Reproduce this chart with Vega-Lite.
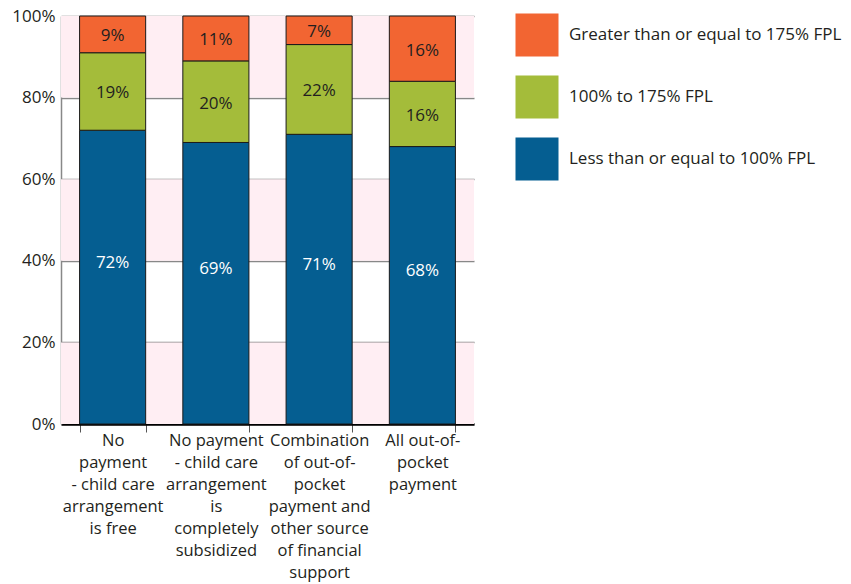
{
  "$schema": "https://vega.github.io/schema/vega-lite/v6.json",
  "autosize": {"type": "none"},
  "width": 413,
  "height": 408,
  "padding": {"left": 61, "top": 16, "right": 377, "bottom": 160},
  "background": "white",
  "config": {
    "font": "Open Sans",
    "view": {"stroke": null},
    "axis": {"labelFont": "Open Sans", "labelColor": "#231F20"}
  },
  "datasets": {
    "bars": [
      {"category": "No payment - child care arrangement is free", "group": "Less than or equal to 100% FPL", "level": 1, "value": 0.72},
      {"category": "No payment - child care arrangement is free", "group": "100% to 175% FPL", "level": 2, "value": 0.19},
      {"category": "No payment - child care arrangement is free", "group": "Greater than or equal to 175% FPL", "level": 3, "value": 0.09},
      {"category": "No payment - child care arrangement is completely subsidized", "group": "Less than or equal to 100% FPL", "level": 1, "value": 0.69},
      {"category": "No payment - child care arrangement is completely subsidized", "group": "100% to 175% FPL", "level": 2, "value": 0.20},
      {"category": "No payment - child care arrangement is completely subsidized", "group": "Greater than or equal to 175% FPL", "level": 3, "value": 0.11},
      {"category": "Combination of out-of-pocket payment and other source of financial support", "group": "Less than or equal to 100% FPL", "level": 1, "value": 0.71},
      {"category": "Combination of out-of-pocket payment and other source of financial support", "group": "100% to 175% FPL", "level": 2, "value": 0.22},
      {"category": "Combination of out-of-pocket payment and other source of financial support", "group": "Greater than or equal to 175% FPL", "level": 3, "value": 0.07},
      {"category": "All out-of-pocket payment", "group": "Less than or equal to 100% FPL", "level": 1, "value": 0.68},
      {"category": "All out-of-pocket payment", "group": "100% to 175% FPL", "level": 2, "value": 0.16},
      {"category": "All out-of-pocket payment", "group": "Greater than or equal to 175% FPL", "level": 3, "value": 0.16}
    ],
    "bands": [
      {"lo": 0, "hi": 0.2},
      {"lo": 0.4, "hi": 0.6},
      {"lo": 0.8, "hi": 1.0}
    ]
  },
  "layer": [
    {
      "data": {"name": "bands"},
      "mark": {"type": "rect", "color": "#FFEEF3"},
      "encoding": {
        "y": {"field": "lo", "type": "quantitative", "scale": {"domain": [0, 1]}},
        "y2": {"field": "hi"}
      }
    },
    {
      "data": {"name": "bars"},
      "layer": [
        {
          "mark": {"type": "bar", "stroke": "#1a1a1a", "strokeWidth": 1},
          "encoding": {
            "x": {
              "field": "category", "type": "nominal", "sort": null,
              "scale": {"paddingInner": 0.36, "paddingOuter": 0.18},
              "axis": {
                "title": null, "labelAngle": 0, "labelFontSize": 16.5, "labelLineHeight": 22,
                "labelPadding": 0, "tickBand": "extent", "tickSize": 8, "tickColor": "#555",
                "domainColor": "#000", "domainWidth": 2.5, "labelBaseline": "top",
                "labelExpr": "datum.value == 'No payment - child care arrangement is free' ? ['No', 'payment', '- child care', 'arrangement', 'is free'] : datum.value == 'No payment - child care arrangement is completely subsidized' ? ['No payment', '- child care', 'arrangement', 'is', 'completely', 'subsidized'] : datum.value == 'Combination of out-of-pocket payment and other source of financial support' ? ['Combination', 'of out-of-', 'pocket', 'payment and', 'other source', 'of financial', 'support'] : datum.value == 'All out-of-pocket payment' ? ['All out-of-', 'pocket', 'payment'] : ''"
              }
            },
            "y": {
              "field": "value", "type": "quantitative", "stack": "zero",
              "scale": {"domain": [0, 1]},
              "axis": {
                "title": null, "format": ".0%", "values": [0, 0.2, 0.4, 0.6, 0.8, 1.0],
                "labelFontSize": 17, "labelPadding": 6, "ticks": false,
                "domainColor": "#888", "domainWidth": 1.5,
                "grid": true, "gridColor": "#888", "gridWidth": 1.5
              }
            },
            "color": {
              "field": "group", "type": "nominal",
              "scale": {
                "domain": ["Greater than or equal to 175% FPL", "100% to 175% FPL", "Less than or equal to 100% FPL"],
                "range": ["#F26532", "#A4BC3A", "#055E91"]
              },
              "legend": {
                "title": null, "orient": "none", "legendX": 454, "legendY": -3,
                "symbolType": "square", "symbolSize": 1850, "symbolStrokeWidth": 0,
                "labelFontSize": 17, "labelColor": "#231F20", "labelOffset": 10,
                "labelLimit": 400,
                "rowPadding": 18, "symbolOpacity": 1
              }
            },
            "order": {"field": "level", "type": "quantitative"}
          }
        },
        {
          "mark": {"type": "text", "fontSize": 17, "color": "#231F20", "dy": 2},
          "encoding": {
            "x": {"field": "category", "type": "nominal", "sort": null},
            "y": {"field": "value", "type": "quantitative", "stack": "zero", "bandPosition": 0.5},
            "order": {"field": "level", "type": "quantitative"},
            "text": {"condition": {"test": "datum.level > 1", "field": "value", "format": ".0%"}, "value": ""}
          }
        },
        {
          "mark": {"type": "text", "fontSize": 17, "color": "white", "dy": -14},
          "encoding": {
            "x": {"field": "category", "type": "nominal", "sort": null},
            "y": {"field": "value", "type": "quantitative", "stack": "zero", "bandPosition": 0.5},
            "order": {"field": "level", "type": "quantitative"},
            "text": {"condition": {"test": "datum.level == 1", "field": "value", "format": ".0%"}, "value": ""}
          }
        }
      ]
    }
  ]
}
